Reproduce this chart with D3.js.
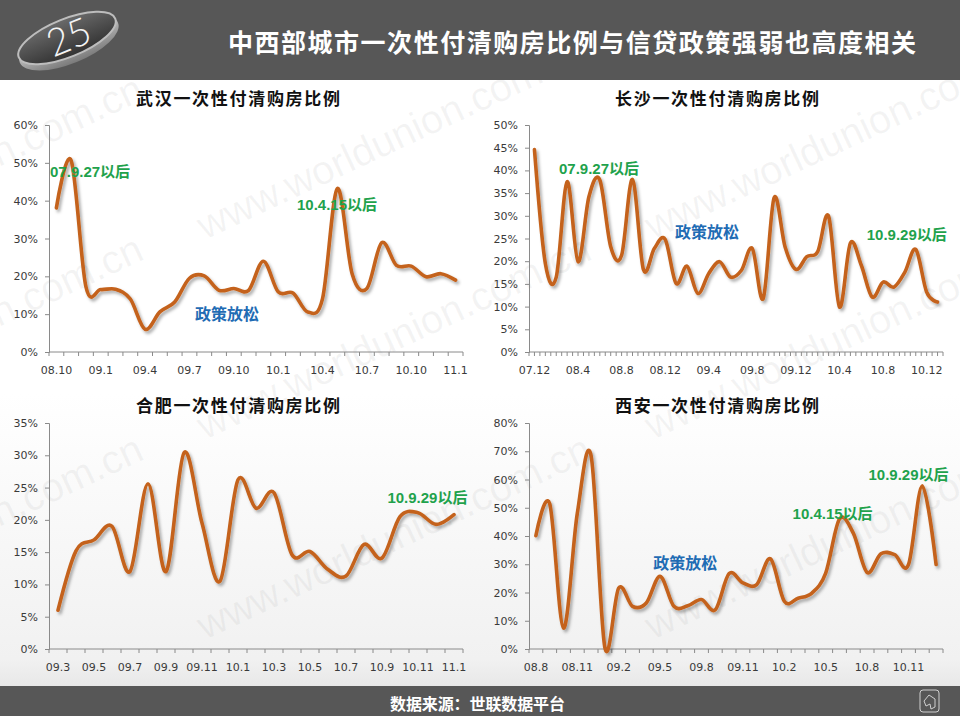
<!DOCTYPE html>
<html><head><meta charset="utf-8">
<script src="https://cdn.jsdelivr.net/npm/d3@7"></script>
<style>body{margin:0;background:#fff}svg{display:block}</style>
</head><body>
<svg id="c" width="960" height="716"></svg>
<script>
// ---------------- DATA ----------------
const pageTitle = "中西部城市一次性付清购房比例与信贷政策强弱也高度相关";
const sourceText = "数据来源：世联数据平台";
const pageNumber = "25";

const wuhanTitle = "武汉一次性付清购房比例";
const wuhanCats = ["08.10","08.11","08.12","09.1","09.2","09.3","09.4","09.5","09.6","09.7","09.8","09.9","09.10","09.11","09.12","10.1","10.2","10.3","10.4","10.5","10.6","10.7","10.8","10.9","10.10","10.11","10.12","11.1"];
const wuhanValues = [38.1,50.6,17.2,16.5,16.6,14.0,6.0,10.6,13.2,19.5,20.1,16.3,16.8,16.3,24.0,15.9,15.6,10.6,14.1,43.2,20.7,16.8,28.9,22.9,22.7,19.9,20.7,19.0];
const wuhanTicks = ["08.10","09.1","09.4","09.7","09.10","10.1","10.4","10.7","10.10","11.1"];
const wuhanNotes = [
  {text:"07.9.27以后", pos:0.07, value:47.8, kind:"tight"},
  {text:"10.4.15以后", pos:16.77, value:38.9, kind:"tight"},
  {text:"政策放松", pos:9.87, value:10.0, kind:"loose"}
];

const changshaTitle = "长沙一次性付清购房比例";
const changshaCats = ["07.12","08.1","08.2","08.3","08.4","08.5","08.6","08.7","08.8","08.9","08.10","08.11","08.12","09.1","09.2","09.3","09.4","09.5","09.6","09.7","09.8","09.9","09.10","09.11","09.12","10.1","10.2","10.3","10.4","10.5","10.6","10.7","10.8","10.9","10.10","10.11","10.12","11.1"];
const changshaValues = [44.6,19.5,16.5,37.5,19.9,34.2,37.9,23.2,21.3,38.0,18.2,22.8,24.8,15.1,18.9,12.9,17.3,19.9,16.5,18.0,22.8,11.8,34.0,23.2,18.2,21.0,22.1,29.9,9.9,24.0,19.1,12.1,15.4,14.3,17.6,22.6,13.2,11.0];
const changshaTicks = ["07.12","08.4","08.8","08.12","09.4","09.8","09.12","10.4","10.8","10.12"];
const changshaNotes = [
  {text:"07.9.27以后", pos:2.75, value:40.5, kind:"tight"},
  {text:"政策放松", pos:13.4, value:26.4, kind:"loose"},
  {text:"10.9.29以后", pos:31.0, value:25.8, kind:"tight"}
];

const hefeiTitle = "合肥一次性付清购房比例";
const hefeiCats = ["09.3","09.4","09.5","09.6","09.7","09.8","09.9","09.10","09.11","09.12","10.1","10.2","10.3","10.4","10.5","10.6","10.7","10.8","10.9","10.10","10.11","10.12","11.1"];
const hefeiValues = [6.0,15.2,16.9,19.0,12.0,25.6,12.0,30.4,19.5,10.5,26.2,21.8,24.2,14.6,15.1,12.3,11.3,16.2,14.1,20.5,21.1,19.3,20.8];
const hefeiTicks = ["09.3","09.5","09.7","09.9","09.11","10.1","10.3","10.5","10.7","10.9","10.11","11.1"];
const hefeiNotes = [
  {text:"10.9.29以后", pos:18.8, value:23.5, kind:"tight"}
];

const xianTitle = "西安一次性付清购房比例";
const xianCats = ["08.8","08.9","08.10","08.11","08.12","09.1","09.2","09.3","09.4","09.5","09.6","09.7","09.8","09.9","09.10","09.11","09.12","10.1","10.2","10.3","10.4","10.5","10.6","10.7","10.8","10.9","10.10","10.11","10.12","11.1"];
const xianValues = [40.1,51.4,7.4,48.0,68.4,0.5,21.6,15.1,16.3,25.7,15.1,15.3,17.5,13.9,26.7,23.4,22.8,31.9,16.9,18.0,19.8,26.9,46.0,41.0,27.1,33.7,33.4,29.9,57.8,29.9];
const xianTicks = ["08.8","08.11","09.2","09.5","09.8","09.11","10.2","10.5","10.8","10.11"];
const xianNotes = [
  {text:"10.9.29以后", pos:24.6, value:61.6, kind:"tight"},
  {text:"10.4.15以后", pos:19.1, value:48.1, kind:"tight"},
  {text:"政策放松", pos:9.0, value:30.4, kind:"loose"}
];

const watermarkText = "www.worldunion.com.cn";

// ---------------- DRAWING ----------------
const W = 960, H = 716;
const svg = d3.select("#c");
const defs = svg.append("defs");
const CJK = "'Noto Sans CJK SC','Noto Sans',sans-serif";
const NUMF = "'DejaVu Sans',sans-serif";
const NOTEF = "'Liberation Sans','Noto Sans CJK SC',sans-serif";

const bg = defs.append("linearGradient").attr("id","bg").attr("x1",0).attr("y1",0).attr("x2",0).attr("y2",1);
bg.append("stop").attr("offset","0%").attr("stop-color","#ffffff");
bg.append("stop").attr("offset","55%").attr("stop-color","#ffffff");
bg.append("stop").attr("offset","92%").attr("stop-color","#f1f1f1");
bg.append("stop").attr("offset","100%").attr("stop-color","#dedede");
svg.append("rect").attr("x",0).attr("y",0).attr("width",W).attr("height",H).attr("fill","url(#bg)");

const sh = defs.append("filter").attr("id","sh").attr("x","-5%").attr("y","-10%").attr("width","115%").attr("height","125%");
sh.append("feDropShadow").attr("dx",2).attr("dy",2.5).attr("stdDeviation",1.6)
  .attr("flood-color","#000").attr("flood-opacity",0.33);

// watermark lattice (drawn under the charts, faint)
const wm = svg.append("g").attr("pointer-events","none");
const wmSpots = [[205,240],[653,240],[205,440],[653,440],[205,640],[653,640],[-243,440],[-243,640],[-243,280]];
wmSpots.forEach(([wx,wy]) => {
  wm.append("text").attr("transform",`translate(${wx},${wy}) rotate(-25)`)
    .attr("font-family","'Liberation Sans',sans-serif").attr("font-size",40)
    .attr("fill","#888").attr("fill-opacity",0.09).text(watermarkText);
});

// header
svg.append("rect").attr("x",0).attr("y",0).attr("width",W).attr("height",80).attr("fill","#575757");
svg.append("text").attr("x",228).attr("y",52).attr("textLength",688).attr("lengthAdjust","spacing")
  .attr("font-family",CJK).attr("font-size",25).attr("font-weight","bold").attr("fill","#fff").text(pageTitle);

// logo disc
const eg = defs.append("linearGradient").attr("id","edge").attr("x1",0).attr("y1",0).attr("x2",0).attr("y2",1);
eg.append("stop").attr("offset","0%").attr("stop-color","#e8e8e8");
eg.append("stop").attr("offset","100%").attr("stop-color","#7a7a7a");
const fg = defs.append("linearGradient").attr("id","face").attr("x1",0).attr("y1",0).attr("x2",0).attr("y2",1);
fg.append("stop").attr("offset","0%").attr("stop-color","#6a6a6a");
fg.append("stop").attr("offset","100%").attr("stop-color","#333");
const logo = svg.append("g").attr("transform","translate(67,38) rotate(-22)");
logo.append("ellipse").attr("cx",0).attr("cy",5).attr("rx",53).attr("ry",21).attr("fill","url(#edge)");
logo.append("ellipse").attr("cx",0).attr("cy",0).attr("rx",52).attr("ry",19).attr("fill","url(#face)")
  .attr("stroke","#bdbdbd").attr("stroke-width",2);
logo.append("text").attr("x",2).attr("y",13).attr("text-anchor","middle").attr("font-family","Lato,'Open Sans',sans-serif")
  .attr("font-weight",300).attr("font-size",38).attr("fill","#f4f4f4").text(pageNumber);

// footer
svg.append("rect").attr("x",0).attr("y",686).attr("width",W).attr("height",30).attr("fill","#575757");
svg.append("text").attr("x",390).attr("y",710).attr("textLength",175).attr("lengthAdjust","spacing")
  .attr("font-family",CJK).attr("font-size",16).attr("font-weight","bold").attr("fill","#fff").text(sourceText);
svg.append("rect").attr("x",920).attr("y",690).attr("width",19).attr("height",22).attr("rx",3)
  .attr("fill","none").attr("stroke","#d0d0d0").attr("stroke-width",1);
svg.append("path").attr("d","M924,701 L929,695 L935,699 L935,707 L931,709 L930,704 L926,706 Z")
  .attr("fill","none").attr("stroke","#d0d0d0").attr("stroke-width",1);

function panel(cfg){
  const g = svg.append("g");
  const x = d3.scaleBand().domain(cfg.cats).range([cfg.x0,cfg.x1]).paddingInner(0).paddingOuter(0);
  const xPos = d3.scaleLinear().domain([0,cfg.cats.length]).range([cfg.x0,cfg.x1]);
  const y = d3.scaleLinear().domain([0,cfg.max]).range([cfg.yb,cfg.yt]);

  g.append("text").attr("x",cfg.titleX).attr("y",cfg.titleY).attr("text-anchor","middle")
    .attr("textLength",204).attr("lengthAdjust","spacing")
    .attr("font-family",CJK).attr("font-size",17).attr("font-weight","bold").attr("fill","#111").text(cfg.title);

  // y axis
  const ya = d3.axisLeft(y).tickValues(d3.range(0,cfg.max+0.001,cfg.step))
    .tickFormat(d=>d+"%").tickSize(4).tickPadding(7);
  const yg = g.append("g").attr("transform",`translate(${cfg.x0},0)`).call(ya);
  yg.select(".domain").attr("stroke","#8a8a8a");
  yg.selectAll(".tick line").attr("stroke","#8a8a8a");
  yg.selectAll(".tick text").attr("font-family",NUMF).attr("font-size",11).attr("fill","#3a3a3a");

  // x axis labels
  const xa = d3.axisBottom(x).tickValues(cfg.ticks).tickSize(0).tickPadding(14);
  const xg = g.append("g").attr("transform",`translate(0,${cfg.yb})`).call(xa);
  xg.select(".domain").remove();
  xg.selectAll(".tick text").attr("font-family",NUMF).attr("font-size",11).attr("fill","#3a3a3a");
  // x axis line and boundary ticks
  g.append("line").attr("x1",cfg.x0).attr("x2",cfg.x1).attr("y1",cfg.yb).attr("y2",cfg.yb).attr("stroke","#8a8a8a");
  const marks = d3.range(0, cfg.cats.length*cfg.sub + 1).map(k => xPos(k/cfg.sub));
  g.selectAll(".xm").data(marks).join("line")
    .attr("x1",d=>d).attr("x2",d=>d).attr("y1",cfg.yb).attr("y2",cfg.yb+4).attr("stroke","#8a8a8a");

  // series line
  const line = d3.line()
    .x((d,i)=>x(cfg.cats[i]) + x.bandwidth()/2)
    .y(d=>y(d))
    .curve(d3.curveCardinal.tension(0));
  g.append("path").datum(cfg.values).attr("d",line).attr("fill","none")
    .attr("stroke","#c4621c").attr("stroke-width",3.6).attr("stroke-linejoin","round").attr("stroke-linecap","round")
    .attr("filter","url(#sh)");

  // notes
  g.selectAll(".note").data(cfg.notes).join("text")
    .attr("x",d=>xPos(d.pos)).attr("y",d=>y(d.value)).attr("dy","0.36em")
    .attr("font-family",NOTEF).attr("font-weight","bold")
    .attr("font-size",d=>d.kind==="loose"?16:15)
    .attr("fill",d=>d.kind==="loose"?"#1f6cb4":"#1fa24c")
    .text(d=>d.text);
}

panel({title:wuhanTitle,cats:wuhanCats,values:wuhanValues,ticks:wuhanTicks,notes:wuhanNotes,
  x0:49,x1:463,yt:125,yb:352,max:60,step:10,sub:1,titleX:238,titleY:105});
panel({title:changshaTitle,cats:changshaCats,values:changshaValues,ticks:changshaTicks,notes:changshaNotes,
  x0:529,x1:943,yt:125,yb:352,max:50,step:5,sub:2,titleX:717,titleY:105});
panel({title:hefeiTitle,cats:hefeiCats,values:hefeiValues,ticks:hefeiTicks,notes:hefeiNotes,
  x0:49,x1:463,yt:423,yb:649,max:35,step:5,sub:1,titleX:238,titleY:412});
panel({title:xianTitle,cats:xianCats,values:xianValues,ticks:xianTicks,notes:xianNotes,
  x0:529,x1:943,yt:423,yb:649,max:80,step:10,sub:1,titleX:717,titleY:412});
</script>
</body></html>
